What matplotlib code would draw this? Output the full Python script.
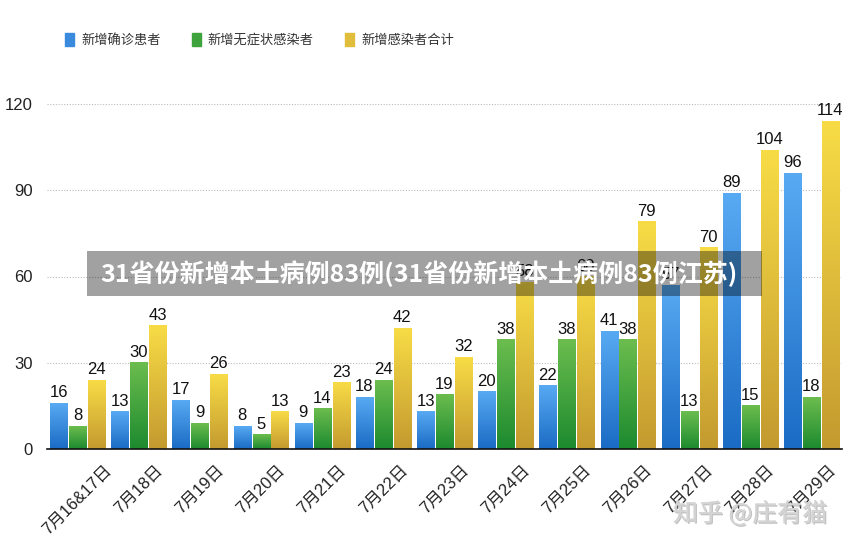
"""Daily new local COVID cases, grouped bars with gradient fill."""

import matplotlib
matplotlib.use("Agg")
import matplotlib.pyplot as plt
import numpy as np
from matplotlib.colors import LinearSegmentedColormap
from matplotlib.patches import Rectangle
import matplotlib.patheffects as pe

dates = ["7月16&17日", "7月18日", "7月19日", "7月20日", "7月21日", "7月22日", "7月23日",
         "7月24日", "7月25日", "7月26日", "7月27日", "7月28日", "7月29日"]
confirmed = [16, 13, 17, 8, 9, 18, 13, 20, 22, 41, 57, 89, 96]
asymptomatic = [8, 30, 9, 5, 14, 24, 19, 38, 38, 38, 13, 15, 18]
total = [24, 43, 26, 13, 23, 42, 32, 58, 60, 79, 70, 104, 114]

series_names = ["新增确诊患者", "新增无症状感染者", "新增感染者合计"]
# (bottom, top) of each bar's gradient
gradients = [("#1a6bc4", "#58aaf3"), ("#1c8a2f", "#6cbd4e"), ("#c39a2f", "#f8dc46")]
legend_colors = ["#3a8ade", "#3ea33c", "#e0bd3a"]

banner_text = "31省份新增本土病例83例(31省份新增本土病例83例江苏)"
watermark = "知乎 @庄有猫"

plt.rcParams["font.family"] = ["Liberation Sans", "Noto Sans CJK SC", "DejaVu Sans"]

fig = plt.figure(figsize=(8.51, 5.48), dpi=100)
ax = fig.add_axes([47 / 851, 1 - 449 / 548, 795 / 851, 345 / 548])

x = np.arange(len(dates))
width = 0.278
step = 0.31
ramp = np.linspace(0, 1, 256).reshape(-1, 1)

for k, values in enumerate([confirmed, asymptomatic, total]):
    cmap = LinearSegmentedColormap.from_list(f"g{k}", gradients[k])
    pos = x + (k - 1) * step
    for xi, v in zip(pos, values):
        ax.imshow(ramp, cmap=cmap, origin="lower", aspect="auto",
                  extent=[xi - width / 2, xi + width / 2, 0, v], zorder=2)
        ax.annotate(str(v), (xi, v), xytext=(0, 2), textcoords="offset points",
                    ha="center", va="bottom", fontsize=12, color="#111111", zorder=3)

ax.set_xlim(-0.5, len(dates) - 0.5)
ax.set_ylim(0, 120)
ax.set_yticks([0, 30, 60, 90, 120])
ax.set_xticks(x)
ax.set_xticklabels(dates, rotation=45, ha="center", va="top", fontsize=12)
ax.tick_params(axis="both", length=0, labelsize=12, colors="#222222")
ax.tick_params(axis="x", pad=10)
ax.tick_params(axis="y", pad=10)
ax.yaxis.grid(True, linestyle=(0, (1, 1.5)), color="#bbbbbb", linewidth=0.8, zorder=0)
ax.set_axisbelow(True)
for side in ["top", "right", "left"]:
    ax.spines[side].set_visible(False)
ax.spines["bottom"].set_color("#111111")
ax.spines["bottom"].set_linewidth(1.2)
ax.spines["bottom"].set_zorder(4)

# legend
handles = [Rectangle((0, 0), 1, 1, color=c) for c in legend_colors]
leg = fig.legend(handles, series_names, loc="center", bbox_to_anchor=(0.305, 1 - 40 / 548),
                 ncol=3, frameon=False, handlelength=0.68, handleheight=1.15,
                 handletextpad=0.5, columnspacing=2.4,
                 prop={"family": "Noto Sans CJK SC", "size": 9.5})
for t in leg.get_texts():
    t.set_color("#333333")

# overlay banner
fig.patches.append(Rectangle((87 / 851, 1 - 296 / 548), 675 / 851, 45 / 548,
                             transform=fig.transFigure, facecolor="black", alpha=0.37,
                             edgecolor="none", zorder=10))
fig.text(100 / 851, 1 - 274 / 548, banner_text, ha="left", va="center", color="white",
         fontsize=18, fontweight="bold", family=["Noto Sans CJK SC", "DejaVu Sans"], zorder=11)

# watermark
fig.text(750 / 851, 1 - 514 / 548, watermark, ha="center", va="center", color="#d4d4d4",
         fontsize=18, family=["Noto Sans CJK SC", "DejaVu Sans"], zorder=11,
         path_effects=[pe.withSimplePatchShadow(offset=(1, -1), shadow_rgbFace="#888888", alpha=0.5),
                       pe.Normal()])

fig.savefig("out.png", dpi=100)
